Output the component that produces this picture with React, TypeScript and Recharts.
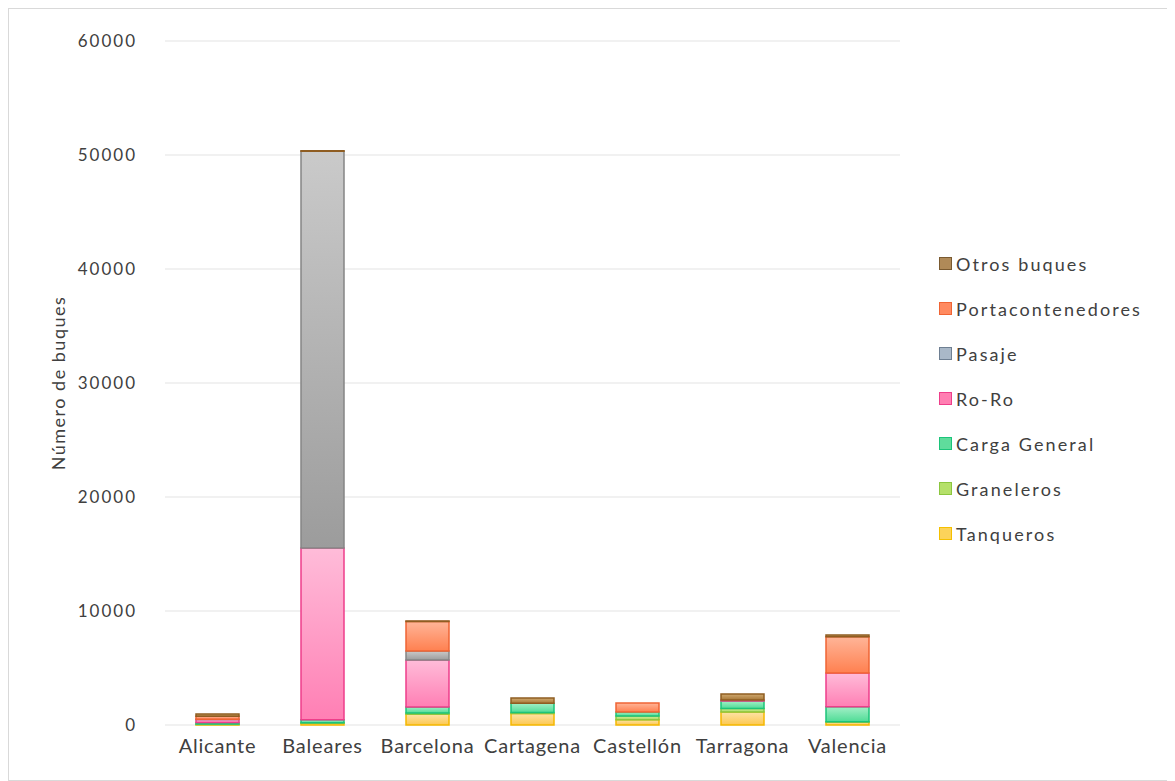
import React from "react";
import { BarChart, Bar, XAxis, YAxis, CartesianGrid, Legend } from "recharts";

const categories = ["Alicante", "Baleares", "Barcelona", "Cartagena", "Castellón", "Tarragona", "Valencia"];
const tanqueros = [50, 150, 950, 1000, 450, 1150, 260];
const graneleros = [30, 50, 100, 100, 350, 300, 30];
const cargaGeneral = [150, 250, 530, 800, 350, 650, 1300];
const roRo = [250, 15080, 4120, 0, 0, 100, 2980];
const pasaje = [30, 34800, 790, 0, 0, 0, 0];
const portacontenedores = [250, 0, 2580, 0, 780, 0, 3170];
const otros = [200, 50, 50, 470, 0, 520, 150];
const yTicks = [0, 10000, 20000, 30000, 40000, 50000, 60000];

const series = [
  { key: "Tanqueros", id: "gTan", values: tanqueros, top: "#fde3a8", bottom: "#fcc850", stroke: "#f5b800" },
  { key: "Graneleros", id: "gGra", values: graneleros, top: "#d3eda0", bottom: "#a8d95a", stroke: "#8cc63f" },
  { key: "Carga General", id: "gCar", values: cargaGeneral, top: "#a3efc7", bottom: "#4fdc96", stroke: "#1cc47a" },
  { key: "Ro-Ro", id: "gRo", values: roRo, top: "#ffbcd9", bottom: "#ff7fb4", stroke: "#ee3e8a" },
  { key: "Pasaje", id: "gPas", values: pasaje, top: "#cacaca", bottom: "#9c9c9c", stroke: "#858585" },
  { key: "Portacontenedores", id: "gPor", values: portacontenedores, top: "#ffb598", bottom: "#ff8050", stroke: "#f06434" },
  { key: "Otros buques", id: "gOtr", values: otros, top: "#d0aa70", bottom: "#a87838", stroke: "#8f5d22" },
];

const legendColors: Record<string, { fill: string; stroke: string }> = {
  "Otros buques": { fill: "#b08a58", stroke: "#7a5a30" },
  Portacontenedores: { fill: "#ff8a60", stroke: "#f06434" },
  Pasaje: { fill: "#a9b8c8", stroke: "#6e7f92" },
  "Ro-Ro": { fill: "#ff7fb2", stroke: "#ee3e8a" },
  "Carga General": { fill: "#5fdc9c", stroke: "#1cc47a" },
  Graneleros: { fill: "#b5e06a", stroke: "#8cc63f" },
  Tanqueros: { fill: "#fcd35a", stroke: "#f5c000" },
};

const data = categories.map((c, i) => {
  const row: Record<string, string | number> = { name: c };
  series.forEach((s) => {
    row[s.key] = s.values[i];
  });
  return row;
});

const FONT = "Lato, 'Open Sans', sans-serif";

const LegendContent = () => {
  const items = [...series].reverse();
  return (
    <div style={{ fontFamily: FONT }}>
      {items.map((s) => (
        <div key={s.key} style={{ display: "flex", alignItems: "center", height: 45 }}>
          <span
            style={{
              display: "inline-block",
              width: 11,
              height: 11,
              background: legendColors[s.key].fill,
              border: `1.5px solid ${legendColors[s.key].stroke}`,
              marginRight: 4,
            }}
          />
          <span style={{ fontSize: 18, color: "#404040", letterSpacing: 2.1 }}>{s.key}</span>
        </div>
      ))}
    </div>
  );
};

export default function App() {
  return (
    <div style={{ width: 1165, height: 771, border: "1px solid #d9d9d9", background: "#fff", position: "relative" }}>
      <BarChart
        width={1165}
        height={771}
        data={data}
        margin={{ top: 32, right: 274, bottom: 15, left: 76 }}
        barSize={43}
      >
        <defs>
          {series.map((s) => (
            <linearGradient key={s.id} id={s.id} x1="0" y1="0" x2="0" y2="1">
              <stop offset="0%" stopColor={s.top} />
              <stop offset="100%" stopColor={s.bottom} />
            </linearGradient>
          ))}
        </defs>
        <CartesianGrid vertical={false} stroke="#e3e3e3" />
        <XAxis
          dataKey="name"
          axisLine={false}
          tickLine={false}
          height={40}
          tickMargin={8}
          tick={{ fontSize: 20, fill: "#404040", fontFamily: FONT, letterSpacing: 0.8 }}
          interval={0}
        />
        <YAxis
          domain={[0, 60000]}
          ticks={yTicks}
          axisLine={false}
          tickLine={false}
          width={80}
          tickMargin={22}
          tick={{ fontSize: 17, fill: "#404040", fontFamily: FONT, letterSpacing: 2 }}
          label={{
            value: "Número de buques",
            angle: -90,
            position: "center",
            dx: -66,
            style: { fontSize: 18, fill: "#404040", fontFamily: FONT, textAnchor: "middle", letterSpacing: 1.5 },
          }}
        />
        <Legend
          layout="horizontal"
          verticalAlign="middle"
          align="center"
          content={<LegendContent />}
          wrapperStyle={{ position: "absolute", left: 930, top: 232, width: 235 }}
        />
        {series.map((s) => (
          <Bar
            key={s.key}
            dataKey={s.key}
            stackId="a"
            fill={`url(#${s.id})`}
            stroke={s.stroke}
            strokeWidth={1.5}
            isAnimationActive={false}
          />
        ))}
      </BarChart>
    </div>
  );
}
